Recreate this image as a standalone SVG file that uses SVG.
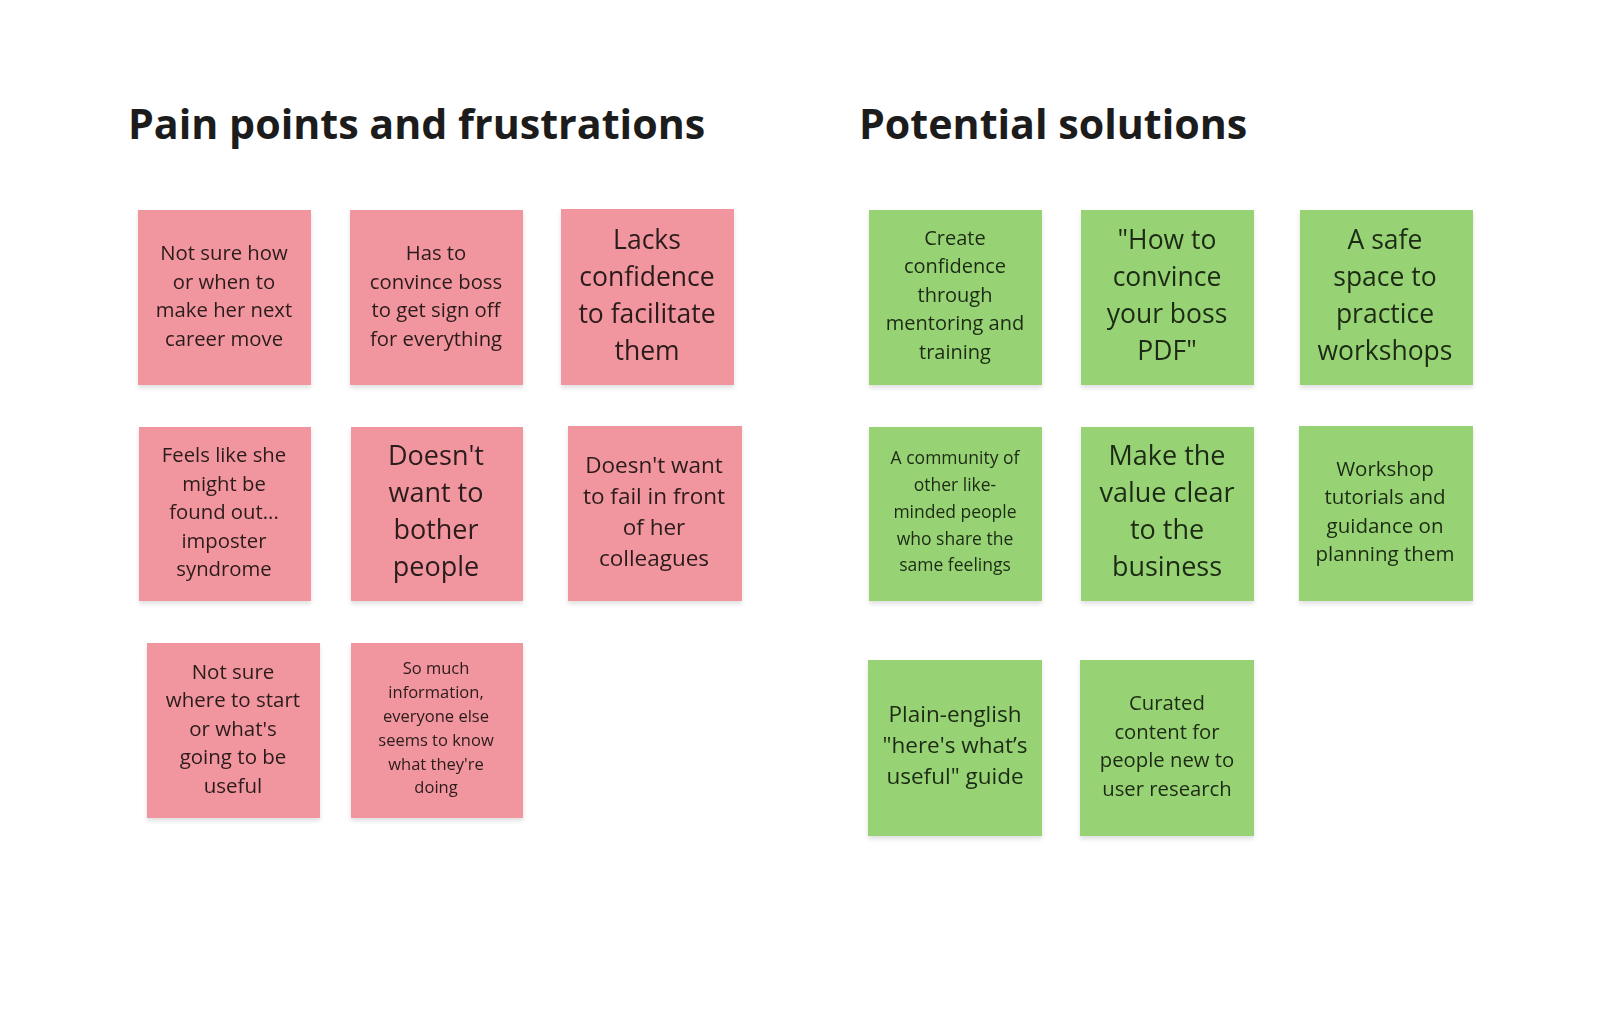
<svg xmlns="http://www.w3.org/2000/svg" width="1624" height="1021" viewBox="0 0 1624 1021">
<defs>
<filter id="sh" x="-10%" y="-10%" width="120%" height="125%">
<feDropShadow dx="0" dy="3" stdDeviation="2" flood-color="#000" flood-opacity="0.12"/>
</filter>
<style>
.title{font-family:"Open Sans","Noto Sans",sans-serif;font-weight:bold;font-size:41.2px;fill:#1c1c1c}
.pink{fill:#F1959E}
.green{fill:#97D374}
.t{font-family:"Open Sans","Noto Sans",sans-serif;fill:#2b1c1c;text-anchor:middle}
.g .t{fill:#1c2a14}
</style>
</defs>
<rect width="1624" height="1021" fill="#fff"/>
<text class="title" x="128" y="139">Pain points and frustrations</text>
<text class="title" x="859" y="139">Potential solutions</text>
<g id="connectors"/>
<g id="p1" filter="url(#sh)"><rect class="pink" x="138" y="210" width="173" height="175"/>
<text class="t" font-size="20.3"><tspan x="224" y="260">Not sure how</tspan><tspan x="224" y="289">or when to</tspan><tspan x="224" y="317">make her next</tspan><tspan x="224" y="346">career move</tspan></text></g>
<g id="p2" filter="url(#sh)"><rect class="pink" x="350" y="210" width="173" height="175"/>
<text class="t" font-size="20.3"><tspan x="436" y="260">Has to</tspan><tspan x="436" y="289">convince boss</tspan><tspan x="436" y="317">to get sign off</tspan><tspan x="436" y="346">for everything</tspan></text></g>
<g id="p3" filter="url(#sh)"><rect class="pink" x="561" y="209" width="173" height="176"/>
<text class="t" font-size="26.5"><tspan x="647" y="249">Lacks</tspan><tspan x="647" y="286">confidence</tspan><tspan x="647" y="323">to facilitate</tspan><tspan x="647" y="360">them</tspan></text></g>
<g id="p4" filter="url(#sh)"><rect class="pink" x="139" y="427" width="172" height="174"/>
<text class="t" font-size="20.3"><tspan x="224" y="462">Feels like she</tspan><tspan x="224" y="491">might be</tspan><tspan x="224" y="519">found out...</tspan><tspan x="224" y="548">imposter</tspan><tspan x="224" y="576">syndrome</tspan></text></g>
<g id="p5" filter="url(#sh)"><rect class="pink" x="351" y="427" width="172" height="174"/>
<text class="t" font-size="27"><tspan x="436" y="465">Doesn't</tspan><tspan x="436" y="502">want to</tspan><tspan x="436" y="539">bother</tspan><tspan x="436" y="576">people</tspan></text></g>
<g id="p6" filter="url(#sh)"><rect class="pink" x="568" y="426" width="174" height="175"/>
<text class="t" font-size="22.5"><tspan x="654" y="473">Doesn't want</tspan><tspan x="654" y="504">to fail in front</tspan><tspan x="654" y="535">of her</tspan><tspan x="654" y="566">colleagues</tspan></text></g>
<g id="p7" filter="url(#sh)"><rect class="pink" x="147" y="643" width="173" height="175"/>
<text class="t" font-size="20.5"><tspan x="233" y="679">Not sure</tspan><tspan x="233" y="707">where to start</tspan><tspan x="233" y="736">or what's</tspan><tspan x="233" y="764">going to be</tspan><tspan x="233" y="793">useful</tspan></text></g>
<g id="p8" filter="url(#sh)"><rect class="pink" x="351" y="643" width="172" height="175"/>
<text class="t" font-size="16.5"><tspan x="436" y="674">So much</tspan><tspan x="436" y="698">information,</tspan><tspan x="436" y="722">everyone else</tspan><tspan x="436" y="746">seems to know</tspan><tspan x="436" y="770">what they're</tspan><tspan x="436" y="793">doing</tspan></text></g>
<g class="g">
<g id="s1" filter="url(#sh)"><rect class="green" x="869" y="210" width="173" height="175"/>
<text class="t" font-size="20"><tspan x="955" y="245">Create</tspan><tspan x="955" y="273">confidence</tspan><tspan x="955" y="302">through</tspan><tspan x="955" y="330">mentoring and</tspan><tspan x="955" y="359">training</tspan></text></g>
<g id="s2" filter="url(#sh)"><rect class="green" x="1081" y="210" width="173" height="175"/>
<text class="t" font-size="26.5"><tspan x="1167" y="249">"How to</tspan><tspan x="1167" y="286">convince</tspan><tspan x="1167" y="323">your boss</tspan><tspan x="1167" y="360">PDF"</tspan></text></g>
<g id="s3" filter="url(#sh)"><rect class="green" x="1300" y="210" width="173" height="175"/>
<text class="t" font-size="26.5"><tspan x="1385" y="249">A safe</tspan><tspan x="1385" y="286">space to</tspan><tspan x="1385" y="323">practice</tspan><tspan x="1385" y="360">workshops</tspan></text></g>
<g id="s4" filter="url(#sh)"><rect class="green" x="869" y="427" width="173" height="174"/>
<text class="t" font-size="17.5"><tspan x="955" y="464">A community of</tspan><tspan x="955" y="491">other like-</tspan><tspan x="955" y="518">minded people</tspan><tspan x="955" y="545">who share the</tspan><tspan x="955" y="571">same feelings</tspan></text></g>
<g id="s5" filter="url(#sh)"><rect class="green" x="1081" y="427" width="173" height="174"/>
<text class="t" font-size="27"><tspan x="1167" y="465">Make the</tspan><tspan x="1167" y="502">value clear</tspan><tspan x="1167" y="539">to the</tspan><tspan x="1167" y="576">business</tspan></text></g>
<g id="s6" filter="url(#sh)"><rect class="green" x="1299" y="426" width="174" height="175"/>
<text class="t" font-size="20.5"><tspan x="1385" y="476">Workshop</tspan><tspan x="1385" y="504">tutorials and</tspan><tspan x="1385" y="533">guidance on</tspan><tspan x="1385" y="561">planning them</tspan></text></g>
<g id="s7" filter="url(#sh)"><rect class="green" x="868" y="660" width="174" height="176"/>
<text class="t" font-size="22.5"><tspan x="955" y="722">Plain-english</tspan><tspan x="955" y="753">"here's what’s</tspan><tspan x="955" y="784">useful" guide</tspan></text></g>
<g id="s8" filter="url(#sh)"><rect class="green" x="1080" y="660" width="174" height="176"/>
<text class="t" font-size="20.3"><tspan x="1167" y="710">Curated</tspan><tspan x="1167" y="739">content for</tspan><tspan x="1167" y="767">people new to</tspan><tspan x="1167" y="796">user research</tspan></text></g>
</g>
</svg>
